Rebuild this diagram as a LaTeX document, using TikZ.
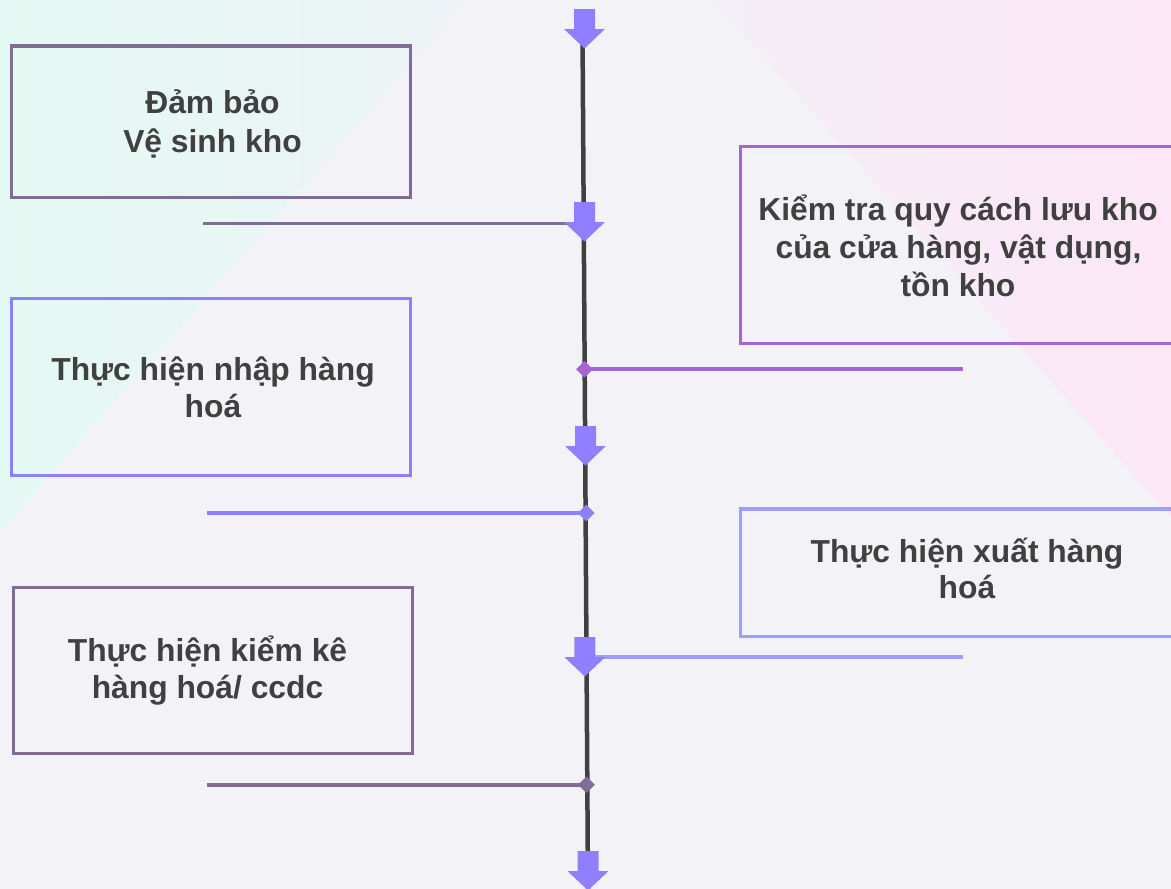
\documentclass[tikz,border=0pt]{standalone}
\usepackage{fontspec}
\setmainfont{Liberation Sans}
\usetikzlibrary{shapes.geometric}
\pgfdeclarelayer{paper}
\pgfdeclarelayer{wires}
\pgfsetlayers{paper,wires,main}
\definecolor{bggray}{HTML}{F3F3F7}
\definecolor{tealL}{HTML}{E4F9F3}
\definecolor{tealR}{HTML}{EDF2F5}
\definecolor{pinkL}{HTML}{F4EEF6}
\definecolor{pinkR}{HTML}{FBE7F6}
\definecolor{cgrape}{HTML}{806C94}
\definecolor{cpurple}{HTML}{A865D1}
\definecolor{cviolet}{HTML}{8C80FF}
\definecolor{clight}{HTML}{9D9EFF}
\definecolor{arrowc}{HTML}{9080FF}
\definecolor{txt}{HTML}{404040}
\newcommand\blockarrowat[1]{%
  \fill[arrowc, shift={(#1)}] (-10.5,0) -- (10.5,0) -- (10.5,20) -- (20.5,20)
    -- (0,39.5) -- (-20.5,20) -- (-10.5,20) -- cycle;}
\begin{document}
\begin{tikzpicture}[x=1pt,y=-1pt,
  box/.style={draw, line width=3.2pt, rectangle, inner sep=0pt, anchor=north west},
  lbl/.style={text=txt, inner sep=0pt, anchor=base,
    font=\fontsize{31.8}{38}\selectfont\bfseries},
  conn/.style={line width=3.6pt},
  dmark/.style={diamond, inner sep=0pt, minimum size=17pt, draw=none}]
\useasboundingbox (0,0) rectangle (1171,889);
% background
\begin{pgfonlayer}{paper}
\fill[bggray] (0,0) rectangle (1171,889);
\shade[left color=tealL, right color=tealR] (0,0) -- (467,0) -- (0,533) -- cycle;
\shade[left color=pinkL, right color=pinkR] (713,0) -- (1171,0) -- (1171,517) -- cycle;
\end{pgfonlayer}
% boxes
\node[box, draw=cgrape, minimum width=399.3pt, minimum height=151.4pt] (b1) at (9.7,44.3) {};
\node[box, draw=cpurple, minimum width=450pt, minimum height=197.2pt] (b2) at (739,145) {};
\node[box, draw=cviolet, minimum width=399.3pt, minimum height=177pt] (b3) at (9.7,297) {};
\node[box, draw=clight, minimum width=450pt, minimum height=127.4pt] (b4) at (739,507.3) {};
\node[box, draw=cgrape, minimum width=399.3pt, minimum height=165.5pt] (b5) at (11.7,586.2) {};
% texts
\node[lbl] (t1a) at (212.5,113) {Đảm bảo};
\node[lbl] (t1b) at (212.5,152) {Vệ sinh kho};
\node[lbl] (t2a) at (958,220) {Kiểm tra quy cách lưu kho};
\node[lbl] (t2b) at (958.5,258) {của cửa hàng, vật dụng,};
\node[lbl] (t2c) at (958,296) {tồn kho};
\node[lbl] (t3a) at (213,380) {Thực hiện nhập hàng};
\node[lbl] (t3b) at (213,417) {hoá};
\node[lbl] (t4a) at (967,562) {Thực hiện xuất hàng};
\node[lbl] (t4b) at (967,598) {hoá};
\node[lbl] (t5a) at (207.5,661) {Thực hiện kiểm kê};
\node[lbl] (t5b) at (207.5,698) {hàng hoá/ ccdc};
% markers
\node[dmark, fill=cpurple] (d2) at (584.5,369.2) {};
\node[dmark, fill=cviolet] (d3) at (586.2,513) {};
\node[dmark, fill=cgrape] (d5) at (586.5,784.8) {};
% spine and connectors
\coordinate (sTop) at (582.5,30);
\coordinate (sBot) at (588,889);
\coordinate (l1s) at (203,223.5);
\coordinate (l1e) at (583.5,223.5);
\coordinate (l2e) at (963,369.2);
\coordinate (l3s) at (207,513);
\coordinate (l4s) at (586,657);
\coordinate (l4e) at (963,657);
\coordinate (l5s) at (207,784.8);
\begin{pgfonlayer}{wires}
\draw[txt, line width=4.5pt] (sTop) -- (sBot);
\draw[conn, cgrape] (l1s) -- (l1e);
\draw[conn, cpurple] (d2.center) -- (l2e);
\draw[conn, cviolet] (l3s) -- (d3.center);
\draw[conn, clight] (l4s) -- (l4e);
\draw[conn, cgrape] (l5s) -- (d5.center);
\end{pgfonlayer}
% arrows
\coordinate (a1) at (584.5,9);
\coordinate (a2) at (584.5,202);
\coordinate (a3) at (585.5,426);
\coordinate (a4) at (584.8,637);
\coordinate (a5) at (588,851);
\blockarrowat{a1}
\blockarrowat{a2}
\blockarrowat{a3}
\blockarrowat{a4}
\blockarrowat{a5}
\end{tikzpicture}
\end{document}
